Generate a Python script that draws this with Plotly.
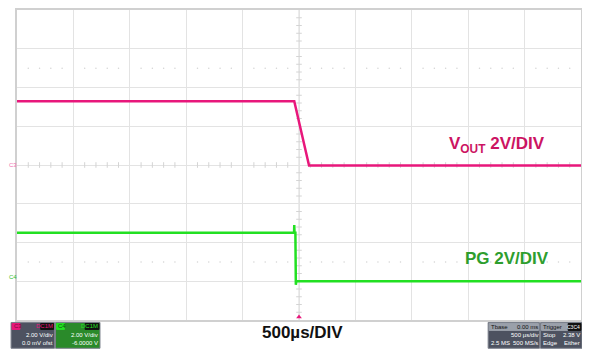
import plotly.graph_objects as go

# ---- data (time in µs, voltage in V) ----
time_vout = [-2500, -42, 89, 2500]
vout = [3.29, 3.29, -0.03, -0.03]

time_pg = [-2500, -44, -42, -40, -32, -31, -28, -24, 2500]
pg = [2.5, 2.5, 2.9, 2.5, 2.5, 0.0, -0.18, 0.0, 0.0]

vout_label = "<b>V<sub>OUT</sub> 2V/DIV</b>"
pg_label = "<b>PG 2V/DIV</b>"
time_label = "<b>500µs/DIV</b>"

# page body has an 8px margin and the visible area ends near x=583
OFF = 8
W, H = 575, 349 - OFF
L, R, T = 9, 1, 0
B = H - (320.5 - OFF)
pw, ph = W - L - R, H - T - B
SX = pw / 571.0  # horizontal compression relative to the reference layout

def px(x):  # reference window px -> paper
    xn = 17 + (x - 17) * SX
    return (xn - OFF - L) / pw

def py(y):
    return (H - B - (y - OFF)) / ph

MAG = "#E8177B"
GRN = "#22E022"
GRID = "#e3e3e3"

fig = go.Figure()

# minor grid decorations
minor_x = [t for t in range(-2500, 2501, 100) if t % 500 != 0]
minor_y = [v / 10 for v in range(-80, 81, 4) if v % 20 != 0]
fig.add_trace(go.Scatter(x=minor_x, y=[0] * len(minor_x), mode="markers",
                         marker=dict(symbol="line-ns", size=4, line=dict(color="#d4d4d4", width=1)),
                         hoverinfo="skip", showlegend=False))
fig.add_trace(go.Scatter(x=[0] * len(minor_y), y=minor_y, mode="markers",
                         marker=dict(symbol="line-ew", size=4, line=dict(color="#d4d4d4", width=1)),
                         hoverinfo="skip", showlegend=False))
for yy in (5, -5):
    fig.add_trace(go.Scatter(x=minor_x, y=[yy] * len(minor_x), mode="markers",
                             marker=dict(symbol="circle", size=1.5, color="#d4d4d4"),
                             hoverinfo="skip", showlegend=False))

# signals
fig.add_trace(go.Scatter(x=time_vout, y=vout, mode="lines", line=dict(color=MAG, width=2.5),
                         name="VOUT", showlegend=False, yaxis="y"))
fig.add_trace(go.Scatter(x=time_pg, y=pg, mode="lines", line=dict(color=GRN, width=2.5),
                         name="PG", showlegend=False, yaxis="y2"))

# trigger marker
fig.add_trace(go.Scatter(x=[0], y=[-7.85], mode="markers", cliponaxis=False,
                         marker=dict(symbol="triangle-up", size=5, color=MAG),
                         hoverinfo="skip", showlegend=False))

fig.update_layout(
    width=W, height=H,
    margin=dict(l=L, r=R, t=T, b=B, pad=0),
    paper_bgcolor="white", plot_bgcolor="white",
    xaxis=dict(range=[-2500, 2500], dtick=500, showgrid=True, gridcolor=GRID, gridwidth=1,
               showticklabels=False, zeroline=False, showline=True, linecolor="#d0d0d0",
               linewidth=2, mirror=True, ticks=""),
    yaxis=dict(range=[-8, 8], dtick=2, showgrid=True, gridcolor=GRID, gridwidth=1,
               showticklabels=False, zeroline=False, showline=True, linecolor="#d0d0d0",
               linewidth=2, mirror=True, ticks=""),
    yaxis2=dict(range=[-2, 14], overlaying="y", showgrid=False, showticklabels=False,
                zeroline=False, ticks=""),
    font=dict(family="Liberation Sans, Arial, sans-serif"),
)

# center vertical line
fig.add_shape(type="line", xref="x", yref="paper", x0=0, x1=0, y0=0, y1=1,
              line=dict(color="#d8d8d8", width=1), layer="below")

# labels
fig.add_annotation(x=px(503), y=py(144), xref="paper", yref="paper", text=vout_label,
                   showarrow=False, font=dict(size=17, color="#CC1462"), xanchor="center", yanchor="middle")
fig.add_annotation(x=px(513), y=py(259), xref="paper", yref="paper", text=pg_label,
                   showarrow=False, font=dict(size=17, color="#2E9E2E"), xanchor="center", yanchor="middle")
fig.add_annotation(x=px(306), y=py(333), xref="paper", yref="paper", text=time_label,
                   showarrow=False, font=dict(size=17, color="#111111"), xanchor="center", yanchor="middle")

# channel ground markers
fig.add_annotation(x=px(13), y=py(164), xref="paper", yref="paper", text="C3", showarrow=False,
                   font=dict(size=6, color="#F070B0"), xanchor="center", yanchor="middle")
fig.add_annotation(x=px(13), y=py(277), xref="paper", yref="paper", text="C4", showarrow=False,
                   font=dict(size=6, color="#30C030"), xanchor="center", yanchor="middle")

# info boxes
def box(x0, x1, y0, y1, fill, border):
    fig.add_shape(type="rect", xref="paper", yref="paper", x0=px(x0), x1=px(x1), y0=py(y1), y1=py(y0),
                  fillcolor=fill, line=dict(color=border, width=1), layer="above")

def txt(x, y, s, color="white", size=6, anchor="right"):
    fig.add_annotation(x=px(x), y=py(y), xref="paper", yref="paper", text=s, showarrow=False,
                       font=dict(size=size, color=color, family="Liberation Sans, Arial"),
                       xanchor=anchor, yanchor="middle", borderpad=0)

box(11, 55, 323, 349, "#4d5260", "#7a7f8a")
box(12, 20, 324, 330, MAG, MAG)
box(41, 54, 324, 330, "#111111", "#111111")
txt(12.5, 327, "C3", color="#7a0a3a", anchor="left")
txt(54, 327, "DC1M", color=MAG)
txt(54, 336, "2.00 V/div")
txt(54, 343.5, "0.0 mV ofst")

box(56, 101, 323, 349, "#2a8a2a", "#7a7f8a")
box(57, 65, 324, 330, GRN, GRN)
box(86, 100, 324, 330, "#111111", "#111111")
txt(57.5, 327, "C4", color="#0a5a0a", anchor="left")
txt(100, 327, "DC1M", color=GRN)
txt(100, 336, "2.00 V/div")
txt(100, 343.5, "-6.0000 V")

box(494, 546, 323, 349, "#4d5260", "#7a7f8a")
box(495, 545, 324, 331, "#9aa0aa", "#9aa0aa")
txt(496, 327.5, "Tbase", color="#111111", anchor="left")
txt(545, 327.5, "0.00 ms", color="#111111")
txt(545, 336, "500 µs/div")
txt(496, 343.5, "2.5 MS", anchor="left")
txt(545, 343.5, "500 MS/s")

box(547, 589, 323, 349, "#4d5260", "#7a7f8a")
box(548, 588, 324, 331, "#9aa0aa", "#9aa0aa")
txt(549, 327.5, "Trigger", color="#111111", anchor="left")
box(575, 588, 324, 331, "#111111", "#111111")
txt(588, 327.5, "C3C4", color="white", size=5)
txt(549, 336, "Stop", anchor="left")
txt(588, 336, "2.38 V")
txt(549, 343.5, "Edge", anchor="left")
txt(588, 343.5, "Either")

fig.write_html("out.html")
